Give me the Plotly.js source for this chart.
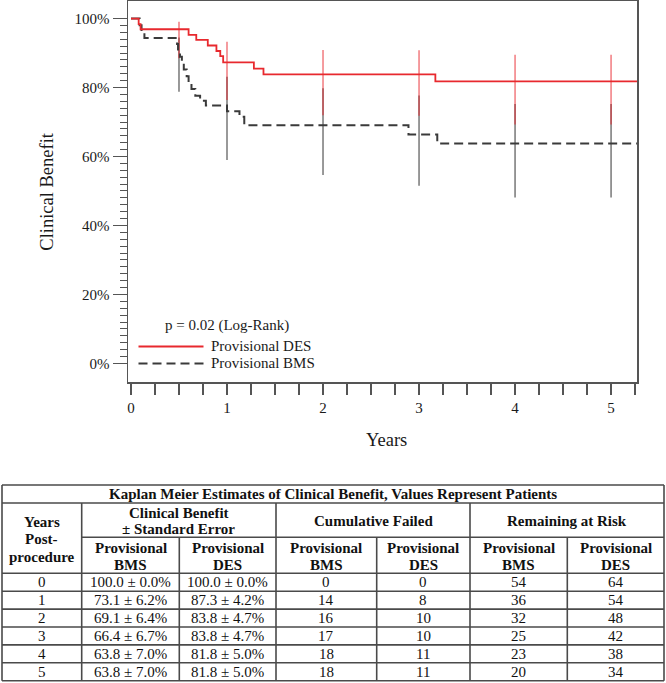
<!DOCTYPE html>
<html><head><meta charset="utf-8">
<script src="https://cdn.plot.ly/plotly-3.0.1.min.js"></script>
<style>html,body{margin:0;padding:0;background:#fff;} #chart{width:666px;height:683px;}</style>
</head><body><div id="chart"></div>
<script>
// Kaplan-Meier step curves (years, % clinical benefit)
const desTime = [0, 0.08, 0.10, 0.60, 0.68, 0.80, 0.89, 0.93, 0.96, 1.28, 1.38, 3.17, 5.27];
const desSurv = [100, 98.4, 96.9, 95.3, 93.8, 92.2, 90.6, 89.1, 87.3, 85.5, 83.8, 81.8, 81.8];
const bmsTime = [0, 0.09, 0.11, 0.14, 0.48, 0.49, 0.51, 0.53, 0.55, 0.58, 0.60, 0.63, 0.67, 0.72, 0.78, 1.00, 1.13, 1.18, 2.89, 3.19, 5.27];
const bmsSurv = [100, 98.1, 96.3, 94.4, 92.6, 90.7, 88.9, 87.0, 85.2, 83.3, 81.5, 79.6, 77.6, 76.2, 74.8, 73.1, 71.5, 69.1, 66.4, 63.8, 63.8];
// Confidence interval bars
const ciTime = [0.5, 1, 2, 3, 4, 5];
const desLo = [88.5, 76.4, 72.0, 71.8, 69.3, 69.3];
const desHi = [99.1, 93.3, 90.9, 90.8, 89.5, 89.5];
const bmsLo = [78.8, 59.0, 54.6, 51.5, 48.1, 48.1];
const bmsHi = [94.5, 83.1, 79.8, 77.7, 75.2, 75.2];
// Axis ticks
const yTickVals = [0, 20, 40, 60, 80, 100];
const yTickText = ['0%', '20%', '40%', '60%', '80%', '100%'];
// Table values
const tblYears = [0, 1, 2, 3, 4, 5];
const bmsBenefit = [100.0, 73.1, 69.1, 66.4, 63.8, 63.8];
const bmsSE = [0.0, 6.2, 6.4, 6.7, 7.0, 7.0];
const desBenefit = [100.0, 87.3, 83.8, 83.8, 81.8, 81.8];
const desSE = [0.0, 4.2, 4.7, 4.7, 5.0, 5.0];
const bmsFailed = [0, 14, 16, 17, 18, 18];
const desFailed = [0, 8, 10, 10, 11, 11];
const bmsRisk = [54, 36, 32, 25, 23, 20];
const desRisk = [64, 54, 48, 42, 38, 34];
const pText = "p = 0.02 (Log-Rank)";
const desName = "Provisional DES";
const bmsName = "Provisional BMS";

const W = 666, H = 683;
const px = x => x / W;
const py = y => 1 - y / H;
const FONT = "Liberation Serif, Times New Roman, serif";
const TXT = "#1a1a1a";
const AX = "#555";
const RED = "#e8292e";
const BLK = "#3a3a3a";

function segs(t, lo, hi) {
  const xs = [], ys = [];
  for (let i = 0; i < t.length; i++) { xs.push(t[i], t[i], null); ys.push(lo[i], hi[i], null); }
  return {x: xs, y: ys};
}
const sb = segs(ciTime, bmsLo, bmsHi);
const sd = segs(ciTime, desLo, desHi);

const traces = [
  {x: sb.x, y: sb.y, mode: 'lines', line: {color: 'rgba(0,0,0,0.5)', width: 1.6}, hoverinfo: 'skip', showlegend: false},
  {x: sd.x, y: sd.y, mode: 'lines', line: {color: 'rgba(232,30,36,0.55)', width: 1.6}, hoverinfo: 'skip', showlegend: false},
  {x: bmsTime, y: bmsSurv, mode: 'lines', line: {shape: 'hv', color: BLK, width: 2, dash: '9px,5px'}, name: bmsName, showlegend: false},
  {x: desTime, y: desSurv, mode: 'lines', line: {shape: 'hv', color: RED, width: 1.8}, name: desName, showlegend: false}
];

const xt = [], xl = [];
for (let v = 0; v <= 5.25 + 1e-9; v += 0.25) { xt.push(+v.toFixed(2)); xl.push(Math.abs(v - Math.round(v)) < 1e-9 ? String(Math.round(v)) : ''); }
const ymin = [];
for (let v = 0; v <= 100; v += 2) ymin.push(v);

const shapes = [];
const ann = [];

// legend
shapes.push({type: 'line', xref: 'paper', yref: 'paper', x0: px(138.5), x1: px(203.5), y0: py(346.5), y1: py(346.5), line: {color: RED, width: 1.8}});
shapes.push({type: 'line', xref: 'paper', yref: 'paper', x0: px(138.5), x1: px(203.5), y0: py(363.5), y1: py(363.5), line: {color: BLK, width: 2, dash: '9px,5px'}});
ann.push({xref: 'paper', yref: 'paper', x: px(226.7), y: py(325), text: pText, showarrow: false, xanchor: 'center', yanchor: 'middle', font: {family: FONT, size: 15, color: TXT}});
ann.push({xref: 'paper', yref: 'paper', x: px(209), y: py(345.5), text: desName, showarrow: false, xanchor: 'left', yanchor: 'middle', font: {family: FONT, size: 15, color: TXT}});
ann.push({xref: 'paper', yref: 'paper', x: px(209), y: py(363.5), text: bmsName, showarrow: false, xanchor: 'left', yanchor: 'middle', font: {family: FONT, size: 15, color: TXT}});
// axis titles
ann.push({xref: 'paper', yref: 'paper', x: px(46.7), y: py(191), text: 'Clinical Benefit', textangle: -90, showarrow: false, xanchor: 'center', yanchor: 'middle', font: {family: FONT, size: 18.5, color: TXT}});
ann.push({xref: 'paper', yref: 'paper', x: px(386), y: py(440), text: 'Years', showarrow: false, xanchor: 'center', yanchor: 'middle', font: {family: FONT, size: 18.5, color: TXT}});

// table
const TL = 2, TR = 664, TT = 485;
const c = [TL, 81.7, 179.3, 276, 376.7, 470, 567.3, TR];
const rowTop = 573.3, rh = 17.9;
const TB = rowTop + rh * tblYears.length;
const TLC = '#4a4a4a', TLW = 1.6;
function hl(y, x0, x1) { shapes.push({type: 'line', xref: 'paper', yref: 'paper', x0: px(x0), x1: px(x1), y0: py(y), y1: py(y), line: {color: TLC, width: TLW}}); }
function vl(x, y0, y1) { shapes.push({type: 'line', xref: 'paper', yref: 'paper', x0: px(x), x1: px(x), y0: py(y0), y1: py(y1), line: {color: TLC, width: TLW}}); }
hl(TT, TL, TR); hl(503, TL, TR); hl(537.3, c[1], TR);
for (let i = 0; i <= tblYears.length; i++) hl(rowTop + rh * i, TL, TR);
vl(TL, TT, TB); vl(TR, TT, TB);
vl(c[1], 503, TB); vl(c[3], 503, TB); vl(c[5], 503, TB);
vl(c[2], 537.3, TB); vl(c[4], 537.3, TB); vl(c[6], 537.3, TB);

function cell(x, y, text, bold) {
  ann.push({xref: 'paper', yref: 'paper', x: px(x), y: py(y), text: bold ? '<b>' + text + '</b>' : text, showarrow: false, xanchor: 'center', yanchor: 'middle', font: {family: FONT, size: 15, color: '#111'}});
}
const cc = i => (c[i] + c[i + 1]) / 2;
cell((TL + TR) / 2, 494, 'Kaplan Meier Estimates of Clinical Benefit, Values Represent Patients', true);
cell(cc(0), 521.7, 'Years', true);
cell(cc(0), 539, 'Post-', true);
cell(cc(0), 556.7, 'procedure', true);
cell((c[1] + c[3]) / 2, 513.3, 'Clinical Benefit', true);
cell((c[1] + c[3]) / 2, 529.3, '± Standard Error', true);
cell((c[3] + c[5]) / 2, 520.5, 'Cumulative Failed', true);
cell((c[5] + c[7]) / 2, 520.5, 'Remaining at Risk', true);
for (let k = 1; k <= 6; k++) {
  cell(cc(k), 547.7, 'Provisional', true);
  cell(cc(k), 565, k % 2 === 1 ? 'BMS' : 'DES', true);
}
for (let i = 0; i < tblYears.length; i++) {
  const yc = rowTop + rh * i + rh / 2;
  cell(cc(0), yc, String(tblYears[i]));
  cell(cc(1), yc, bmsBenefit[i].toFixed(1) + ' ± ' + bmsSE[i].toFixed(1) + '%');
  cell(cc(2), yc, desBenefit[i].toFixed(1) + ' ± ' + desSE[i].toFixed(1) + '%');
  cell(cc(3), yc, String(bmsFailed[i]));
  cell(cc(4), yc, String(desFailed[i]));
  cell(cc(5), yc, String(bmsRisk[i]));
  cell(cc(6), yc, String(desRisk[i]));
}

const layout = {
  width: W, height: H,
  margin: {l: 0, r: 0, t: 0, b: 0},
  paper_bgcolor: '#fff', plot_bgcolor: '#fff',
  showlegend: false,
  font: {family: FONT, color: TXT},
  xaxis: {
    domain: [px(128), px(637)], range: [-0.031, 5.27],
    tickmode: 'array', tickvals: xt, ticktext: xl, ticks: 'outside', ticklen: 11, tickwidth: 1.5, tickcolor: AX,
    showline: true, mirror: true, linecolor: AX, linewidth: 1.5,
    showgrid: false, zeroline: false, tickfont: {family: FONT, size: 15, color: TXT}
  },
  yaxis: {
    domain: [py(382), py(1)], range: [-5.4, 105.1],
    tickmode: 'array', tickvals: yTickVals, ticktext: yTickText, ticks: 'outside', ticklen: 14, tickwidth: 1.5, tickcolor: AX,
    minor: {tickvals: ymin, ticks: 'outside', ticklen: 7, tickwidth: 1, tickcolor: AX},
    showline: true, mirror: true, linecolor: AX, linewidth: 1.5,
    showgrid: false, zeroline: false, tickfont: {family: FONT, size: 15, color: TXT}
  },
  shapes: shapes,
  annotations: ann
};
Plotly.newPlot('chart', traces, layout, {displayModeBar: false, staticPlot: true});
</script>
</body></html>
